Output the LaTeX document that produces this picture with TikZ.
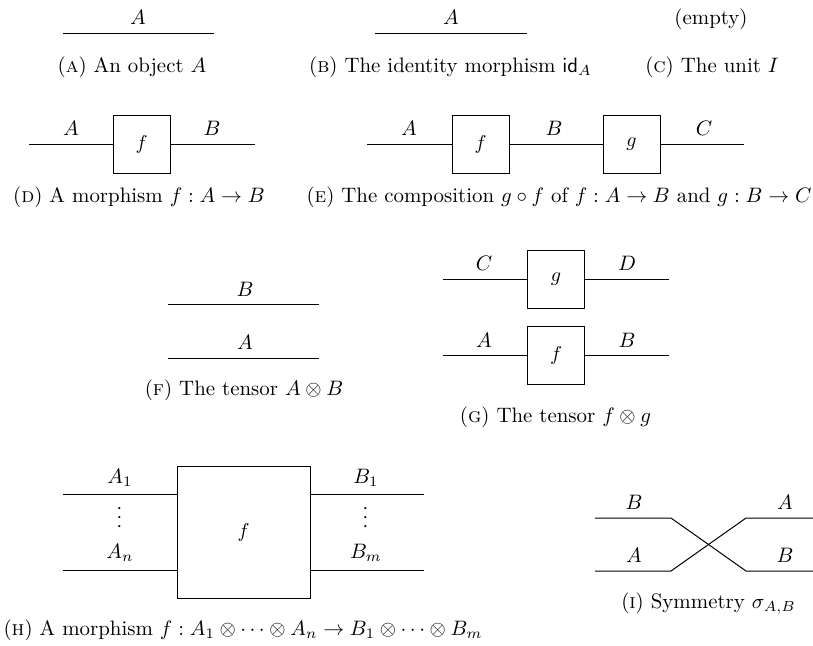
\documentclass[tikz,border=0pt]{standalone}
\usepackage{amsmath}
\begin{document}
\begin{tikzpicture}[x=0.5pt,y=-0.5pt,
  wire/.style={line width=0.5pt},
  mor/.style={draw,line width=0.5pt,inner sep=0pt,minimum width=28.5pt,minimum height=29pt},
  lbl/.style={anchor=base,inner sep=0pt,scale=1.045},
  dots/.style={inner sep=0pt,scale=1.045,rotate=90}]
\useasboundingbox (0,0) rectangle (813,645);
\coordinate (a0) at (63,33);
\coordinate (a1) at (214,33);
\draw[wire] (a0) -- (a1);
\node[lbl] (aA) at (138,24) {$A$};
\node[lbl] (acap) at (132,72) {(\textsc{a}) An object $A$};
\coordinate (b0) at (375,33);
\coordinate (b1) at (527,33);
\draw[wire] (b0) -- (b1);
\node[lbl] (bA) at (451,24) {$A$};
\node[lbl] (bcap) at (450.5,72) {(\textsc{b}) The identity morphism $\mathsf{id}_A$};
\node[lbl] (cempty) at (711,24) {(empty)};
\node[lbl] (ccap) at (712,72) {(\textsc{c}) The unit $I$};
\node[mor] (df) at (141.5,144) {$f$};
\coordinate (d0) at (29,144);
\coordinate (d1) at (255,144);
\draw[wire] (d0) -- (df.west);
\draw[wire] (df.east) -- (d1);
\node[lbl] (dA) at (71,135) {$A$};
\node[lbl] (dB) at (212,135) {$B$};
\node[lbl] (dcap) at (139,202) {(\textsc{d}) A morphism $f : A \to B$};
\node[mor] (ef) at (480.5,144) {$f$};
\node[mor] (eg) at (631.5,144) {$g$};
\coordinate (e0) at (367,144);
\coordinate (e1) at (744,144);
\draw[wire] (e0) -- (ef.west);
\draw[wire] (ef.east) -- (eg.west);
\draw[wire] (eg.east) -- (e1);
\node[lbl] (eA) at (409,135) {$A$};
\node[lbl] (eB) at (554,135) {$B$};
\node[lbl] (eC) at (704,135) {$C$};
\node[lbl] (ecap) at (559,202) {(\textsc{e}) The composition $g \circ f$ of $f : A \to B$ and $g : B \to C$};
\coordinate (fB0) at (168,304);
\coordinate (fB1) at (319,304);
\coordinate (fA0) at (168,358);
\coordinate (fA1) at (319,358);
\draw[wire] (fB0) -- (fB1);
\draw[wire] (fA0) -- (fA1);
\node[lbl] (fB) at (245,296) {$B$};
\node[lbl] (fA) at (245,349) {$A$};
\node[lbl] (fcap) at (244,395) {(\textsc{f}) The tensor $A \otimes B$};
\node[mor] (gg) at (556,279.5) {$g$};
\node[mor] (gf) at (556,355) {$f$};
\coordinate (gC0) at (443,279.5);
\coordinate (gD1) at (669,279.5);
\coordinate (gA0) at (443,355);
\coordinate (gB1) at (669,355);
\draw[wire] (gC0) -- (gg.west);
\draw[wire] (gg.east) -- (gD1);
\draw[wire] (gA0) -- (gf.west);
\draw[wire] (gf.east) -- (gB1);
\node[lbl] (gC) at (484,270) {$C$};
\node[lbl] (gD) at (627,270) {$D$};
\node[lbl] (gA) at (484,347) {$A$};
\node[lbl] (gB) at (627,347) {$B$};
\node[lbl] (gcap) at (555.5,422) {(\textsc{g}) The tensor $f \otimes g$};
\node[mor,minimum width=66.5pt,minimum height=66pt] (hf) at (243.5,532) {$f$};
\coordinate (hA1) at (63,494);
\coordinate (hAn) at (63,570);
\coordinate (hB1) at (424,494);
\coordinate (hBm) at (424,570);
\draw[wire] (hA1) -- (hA1 -| hf.west);
\draw[wire] (hAn) -- (hAn -| hf.west);
\draw[wire] (hf.east |- hB1) -- (hB1);
\draw[wire] (hf.east |- hBm) -- (hBm);
\node[lbl] (hlA1) at (120,483) {$A_1$};
\node[dots] (hdA) at (120,516) {$\cdots$};
\node[lbl] (hlAn) at (120,558) {$A_n$};
\node[lbl] (hlB1) at (366,483) {$B_1$};
\node[dots] (hdB) at (366,516) {$\cdots$};
\node[lbl] (hlBm) at (366,558) {$B_m$};
\node[lbl] (hcap) at (243,635) {(\textsc{h}) A morphism $f : A_1 \otimes \cdots \otimes A_n \to B_1 \otimes \cdots \otimes B_m$};
\coordinate (iB0) at (595,518);
\coordinate (iB1) at (671,518);
\coordinate (iB2) at (746,571);
\coordinate (iB3) at (813,571);
\coordinate (iA0) at (595,571);
\coordinate (iA1) at (671,571);
\coordinate (iA2) at (746,518);
\coordinate (iA3) at (813,518);
\draw[wire] (iB0) -- (iB1) -- (iB2) -- (iB3);
\draw[wire] (iA0) -- (iA1) -- (iA2) -- (iA3);
\node[lbl] (iBl) at (634,509) {$B$};
\node[lbl] (iAr) at (785,509) {$A$};
\node[lbl] (iAl) at (634,562) {$A$};
\node[lbl] (iBr) at (785,562) {$B$};
\node[lbl] (icap) at (708.5,608) {(\textsc{i}) Symmetry $\sigma_{A,B}$};
\end{tikzpicture}
\end{document}
